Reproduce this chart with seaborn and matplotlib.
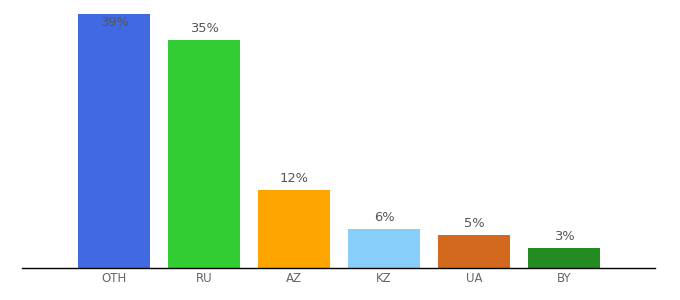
import matplotlib
matplotlib.use("Agg")
import matplotlib.pyplot as plt
import seaborn as sns
import pandas as pd

countries = ["OTH", "RU", "AZ", "KZ", "UA", "BY"]
shares = [39, 35, 12, 6, 5, 3]
labels = ["39%", "35%", "12%", "6%", "5%", "3%"]
colors = ["#4169e1", "#32cd32", "#ffa500", "#87cefa", "#d2691e", "#228b22"]

df = pd.DataFrame({"country": countries, "share": shares})

sns.set_style("white")
plt.rcParams["font.family"] = ["DejaVu Sans"]

fig = plt.figure(figsize=(6.8, 3.0), dpi=100)
ax = fig.add_axes([22/680, 32/300, 633/680, 268/300])
sns.barplot(data=df, x="country", y="share", hue="country", palette=colors,
            order=countries, hue_order=countries, width=0.8, legend=False,
            saturation=1, linewidth=0, ax=ax)

ax.set_xlim(-1.022, 6.01)
ax.set_ylim(0, 41.23)
for i, (v, lab) in enumerate(zip(shares, labels)):
    y = min(v + 1.8, 37.8)
    ax.text(i, y, lab, ha="center", va="center", fontsize=9.4, color="#555555")

for s in ["top", "right", "left"]:
    ax.spines[s].set_visible(False)
ax.spines["bottom"].set_color("#000000")
ax.spines["bottom"].set_linewidth(1)
ax.set_yticks([])
ax.set_xlabel("")
ax.set_ylabel("")
ax.tick_params(axis="x", length=0, pad=3, labelsize=8.5, labelcolor="#666666")

fig.savefig("out.png", dpi=100)
